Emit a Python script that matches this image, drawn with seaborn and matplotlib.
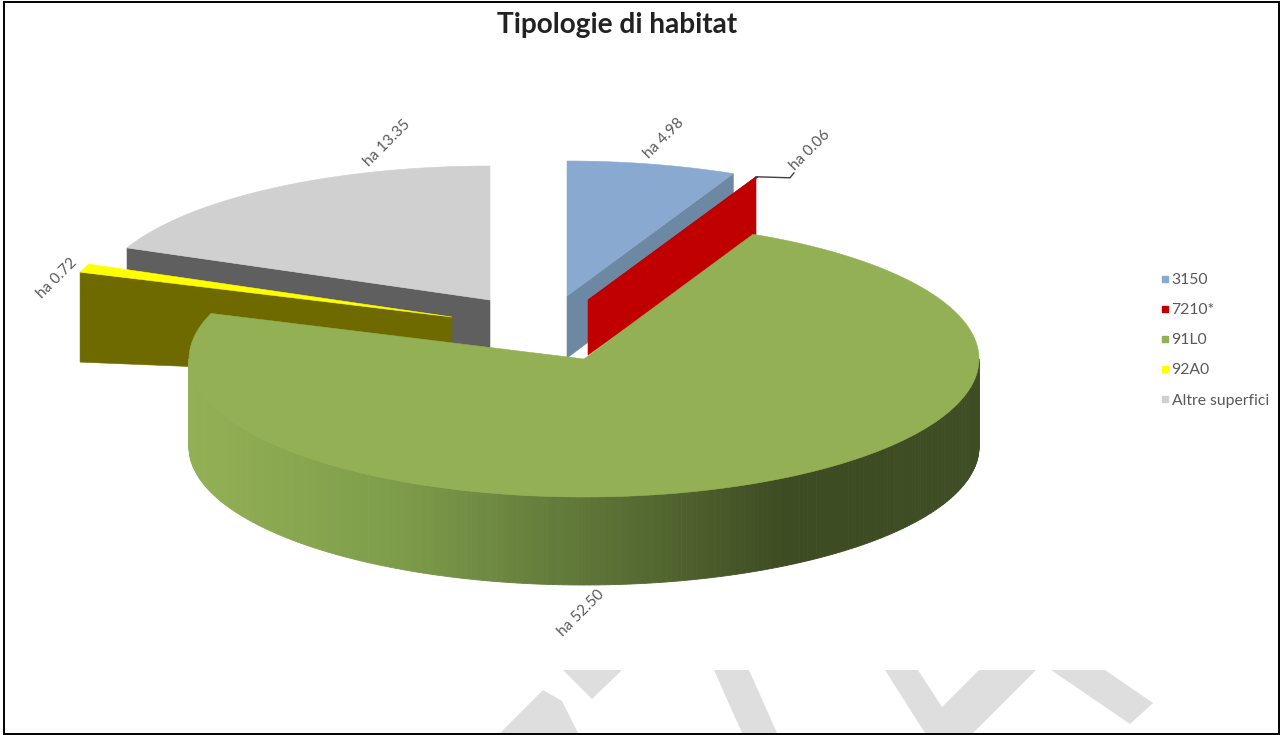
import numpy as np
import matplotlib
matplotlib.use("Agg")
import matplotlib.pyplot as plt
from matplotlib.lines import Line2D
from matplotlib.patches import Rectangle
import seaborn as sns

# ---- data ----
categories = ["3150", "7210*", "91L0", "92A0", "Altre superfici"]
values = [4.98, 0.06, 52.50, 0.72, 13.35]
value_labels = ["ha 4.98", "ha 0.06", "ha 52.50", "ha 0.72", "ha 13.35"]

# ---- style / layout (pixel space) ----
top_colors = ["#8AA9D1", "#C00000", "#93B054", "#FFFF00", "#D0D0D0"]
side_colors = ["#6C88A3", "#C00000", None, "#6E6A00", "#5F5F5F"]
centers = [(567, 296), (588, 300), (584, 359), (452, 317), (490, 300)]
radii_x = [393, 397, 395, 394, 394]
radii_y = [135, 136, 138, 136, 134]
depth_apex = [62, 55, 0, 60, 50]
depth_rim = [60, 60, 88, 90, 50]
label_pos = [(664, 138), (810, 150), (581, 613), (57, 278), (387, 143)]
legend_colors = ["#8AA9D1", "#C00000", "#93B054", "#FFFF00", "#D0D0D0"]
TXT = "#595959"

sns.set_theme(style="white")
plt.rcParams["font.family"] = ["Lato", "DejaVu Sans"]

fig = plt.figure(figsize=(12.8, 7.35), dpi=100)
ax = fig.add_axes([0, 0, 1, 1])
ax.set_xlim(0, 1280)
ax.set_ylim(735, 0)
ax.axis("off")

# slice boundaries: clockwise from 12 o'clock
deg = np.array(values) / sum(values) * 360
starts = 90 - np.concatenate([[0], np.cumsum(deg)[:-1]])
ends = starts - deg


def pt(i, a):
    cx, cy = centers[i]
    r = np.radians(a)
    return cx + radii_x[i] * np.cos(r), cy - radii_y[i] * np.sin(r)


def top_face(i, z):
    th = np.linspace(starts[i], ends[i], 300)
    xs, ys = pt(i, th)
    ax.fill(np.r_[centers[i][0], xs], np.r_[centers[i][1], ys],
            color=top_colors[i], lw=0.4, zorder=z)


def edge_face(i, angle, z):
    cx, cy = centers[i]
    rx, ry = pt(i, angle)
    ax.fill([cx, rx, rx, cx],
            [cy, ry, ry + depth_rim[i], cy + depth_apex[i]],
            color=side_colors[i], lw=0.4, zorder=z)


# back-to-front order
edge_face(4, starts[4], 1)
top_face(4, 2)
edge_face(3, starts[3], 3)
top_face(3, 4)
edge_face(0, ends[0], 5)
top_face(0, 6)
edge_face(1, starts[1], 7)
top_face(1, 8)

# big slice: outer wall with a left-to-right shading, then the top face
ramp = sns.blend_palette(["#93B054", "#7F9E4B", "#5F7638", "#3E4C23", "#3F4D24"], 256)
th = np.linspace(180, 360, 241)
xs, ys = pt(2, th)
x_min, x_max = xs.min(), xs.max()
for k in range(len(th) - 1):
    f = ((xs[k] + xs[k + 1]) / 2 - x_min) / (x_max - x_min)
    c = ramp[min(int(f * 255), 255)]
    ax.fill([xs[k], xs[k + 1], xs[k + 1], xs[k]],
            [ys[k], ys[k + 1], ys[k + 1] + depth_rim[2], ys[k] + depth_rim[2]],
            color=c, lw=0.6, zorder=9)
top_face(2, 10)

# value labels and leader
for (x, y), t in zip(label_pos, value_labels):
    ax.text(x, y, t, rotation=45, ha="center", va="center", fontsize=11,
            color=TXT, zorder=12)
lx, ly = pt(1, starts[1])
ax.plot([lx, lx + 34, lx + 38], [ly, ly + 1, ly - 4], color="#404040", lw=1, zorder=11)

# title
ax.text(617, 25, "Tipologie di habitat", ha="center", va="center",
        fontsize=20.2, fontweight="bold", color="#222222")

# legend
handles = [Line2D([], [], ls="", marker="s", ms=5, color=c) for c in legend_colors]
ax.legend(handles, categories, loc="upper left", bbox_to_anchor=(1152 / 1280, 1 - 273 / 735),
          frameon=False, fontsize=11.3, labelspacing=1.03, handletextpad=-0.35, handlelength=1.6,
          labelcolor=TXT, borderpad=0, borderaxespad=0)

# watermark shapes at the bottom
wm = [
    [(563, 670), (622, 670), (592, 699)],
    [(500, 733), (543, 690), (562, 701), (578, 733)],
    [(714, 670), (749, 670), (777, 733), (742, 733)],
    [(885, 670), (918, 670), (942, 707), (979, 670), (1036, 670), (973, 733), (925, 733)],
    [(1051, 670), (1105, 670), (1153, 703), (1130, 724)],
]
for p in wm:
    ax.fill(*zip(*p), color="#DEDEDE", lw=0, zorder=0)

# page frame
ax.add_patch(Rectangle((4, 1.5), 1275, 732, fill=False, ec="black", lw=1.4, zorder=20))

fig.savefig("out.png", dpi=100)
